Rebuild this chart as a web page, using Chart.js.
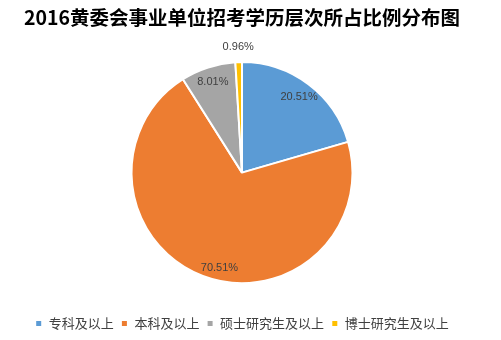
<!DOCTYPE html>
<html>
<head>
<meta charset="utf-8">
<script src="https://cdn.jsdelivr.net/npm/chart.js@4"></script>
<style>
  html, body { margin: 0; padding: 0; background: #fff; }
  #wrap { width: 501px; height: 340px; }
</style>
</head>
<body>
<div id="wrap"><canvas id="pie" width="501" height="340"></canvas></div>
<script>
// ====== DATA ======
const TITLE      = '2016黄委会事业单位招考学历层次所占比例分布图';
const categories = ['专科及以上', '本科及以上', '硕士研究生及以上', '博士研究生及以上'];
const percents   = [20.51, 70.51, 8.01, 0.96];
const colors     = ['#5B9BD5', '#ED7D31', '#A5A5A5', '#FFC000'];

// label placement: fraction of radius, and angle nudge (degrees) off the slice middle
const labelRadius = [0.86, 0.89, 0.86, 1.14];
const labelNudge  = [0, -7.5, 0, 0];

// ====== PLUGINS ======
const pctLabels = {
  id: 'pctLabels',
  afterDatasetsDraw(chart){
    const ctx = chart.ctx;
    const meta = chart.getDatasetMeta(0);
    ctx.save();
    ctx.font = '11px "Liberation Sans", Arial, sans-serif';
    ctx.fillStyle = '#404040';
    ctx.textAlign = 'center';
    ctx.textBaseline = 'middle';
    meta.data.forEach((arc, i) => {
      const p = arc.getProps(['x','y','startAngle','endAngle','outerRadius'], true);
      const mid = (p.startAngle + p.endAngle) / 2 + labelNudge[i] * Math.PI / 180;
      const r = p.outerRadius * labelRadius[i];
      ctx.fillText(percents[i].toFixed(2) + '%', p.x + Math.cos(mid)*r, p.y + Math.sin(mid)*r);
    });
    ctx.restore();
  }
};

// ====== CHART ======
const ctx = document.getElementById('pie').getContext('2d');
new Chart(ctx, {
  type: 'pie',
  data: {
    labels: categories,
    datasets: [{
      data: percents,
      backgroundColor: colors,
      borderColor: '#ffffff',
      borderWidth: 2,
      radius: 110.5
    }]
  },
  options: {
    responsive: false,
    animation: false,
    devicePixelRatio: 1,
    layout: { padding: { left: 0, right: 17, top: 0, bottom: 0 } },
    plugins: {
      title: {
        display: true,
        text: TITLE,
        color: '#000',
        font: { family: '"Noto Sans CJK SC", sans-serif', size: 19.5, weight: 'bold' },
        padding: { top: 6, bottom: 6 }
      },
      legend: {
        position: 'bottom',
        labels: {
          boxWidth: 7,
          boxHeight: 7,
          padding: 7.2,
          color: '#404040',
          font: { family: '"Noto Sans CJK SC", sans-serif', size: 13 }
        }
      },
      tooltip: { enabled: false }
    }
  },
  plugins: [pctLabels]
});
</script>
</body>
</html>
